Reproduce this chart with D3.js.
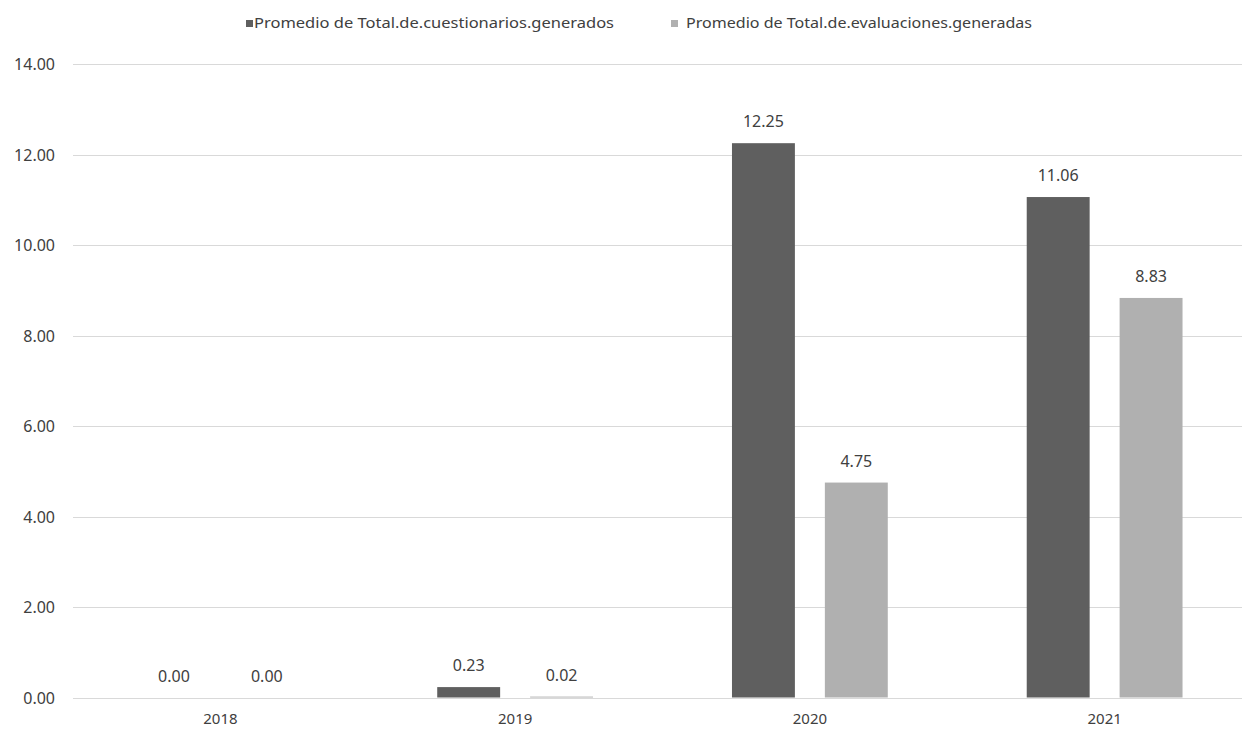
<!DOCTYPE html>
<html>
<head>
<meta charset="utf-8">
<script src="https://cdn.jsdelivr.net/npm/d3@7"></script>
<style>
  html, body { margin: 0; padding: 0; background: #ffffff; }
  svg { display: block; }
</style>
</head>
<body>
<svg id="chart" width="1242" height="729"></svg>
<script>
const years = ["2018", "2019", "2020", "2021"];
const seriesNames = [
  "Promedio de Total.de.cuestionarios.generados",
  "Promedio de Total.de.evaluaciones.generadas"
];
const cuestionarios = [0.00, 0.23, 12.25, 11.06];
const evaluaciones = [0.00, 0.02, 4.75, 8.83];
const yTicks = [0, 2, 4, 6, 8, 10, 12, 14];
const colors = ["#5f5f5f", "#b0b0b0"];

const seriesValues = [cuestionarios, evaluaciones];
const data = years.map((y, i) => ({
  year: y,
  values: seriesNames.map((s, j) => ({ key: s, idx: j, value: seriesValues[j][i] }))
}));

const svg = d3.select("#chart");
const W = 1242, H = 729;
const plotLeft = 73, plotRight = 1252, plotTop = 64, plotBottom = 697.5;
const font = "'Noto Sans', sans-serif";
const textColor = "#404040";

const x0 = d3.scaleBand().domain(years).range([plotLeft, plotRight]).padding(0);
const x1 = d3.scaleBand().domain(seriesNames).range([0, x0.bandwidth()])
  .paddingInner(0.3226).paddingOuter(0.748);
const y = d3.scaleLinear().domain([0, 14]).range([plotBottom, plotTop]);

// gridlines
const grid = svg.append("g");
grid.selectAll("line").data(yTicks).join("line")
  .attr("x1", plotLeft).attr("x2", W)
  .attr("y1", d => Math.round(y(d)) + 0.5).attr("y2", d => Math.round(y(d)) + 0.5)
  .attr("stroke", "#d9d9d9").attr("stroke-width", 1);

// y axis labels
const yAxis = d3.axisLeft(y).tickValues(yTicks).tickFormat(d3.format(".2f")).tickSize(0).tickPadding(0);
const yg = svg.append("g").attr("transform", `translate(55,0)`).call(yAxis);
yg.select(".domain").remove();
yg.selectAll("text").attr("font-family", font).attr("font-size", 16).attr("fill", textColor)
  .attr("dy", "0.35em");

// x axis labels
const xAxis = d3.axisBottom(x0).tickSize(0).tickPadding(0);
const xg = svg.append("g").attr("transform", `translate(0,${plotBottom})`).call(xAxis);
xg.select(".domain").remove();
xg.selectAll("text").attr("font-family", font).attr("font-size", 15).attr("fill", textColor)
  .attr("dy", null).attr("y", 26);

// bars
const groups = svg.append("g").selectAll("g").data(data).join("g")
  .attr("transform", d => `translate(${x0(d.year)},0)`);
groups.selectAll("rect").data(d => d.values).join("rect")
  .attr("x", d => x1(d.key))
  .attr("width", x1.bandwidth())
  .attr("y", d => y(d.value))
  .attr("height", d => y(0) - y(d.value))
  .attr("fill", d => colors[d.idx]);

// data labels
groups.selectAll("text").data(d => d.values).join("text")
  .attr("x", d => x1(d.key) + x1.bandwidth() / 2)
  .attr("y", d => y(d.value) - 16)
  .attr("text-anchor", "middle")
  .attr("font-family", font).attr("font-size", 16).attr("fill", textColor)
  .text(d => d3.format(".2f")(d.value));

// legend
const legendX = [246, 671];
const legendW = [360, 346];
const lg = svg.append("g").selectAll("g").data(seriesNames).join("g")
  .attr("transform", (d, i) => `translate(${legendX[i]},0)`);
lg.append("rect").attr("x", 0).attr("y", 20).attr("width", 7).attr("height", 7)
  .attr("fill", (d, i) => colors[i]);
lg.append("text").attr("x", (d, i) => i === 0 ? 8 : 15).attr("y", 28)
  .attr("font-family", font).attr("font-size", 14).attr("fill", textColor)
  .attr("textLength", (d, i) => legendW[i]).attr("lengthAdjust", "spacingAndGlyphs")
  .text(d => d);
</script>
</body>
</html>
